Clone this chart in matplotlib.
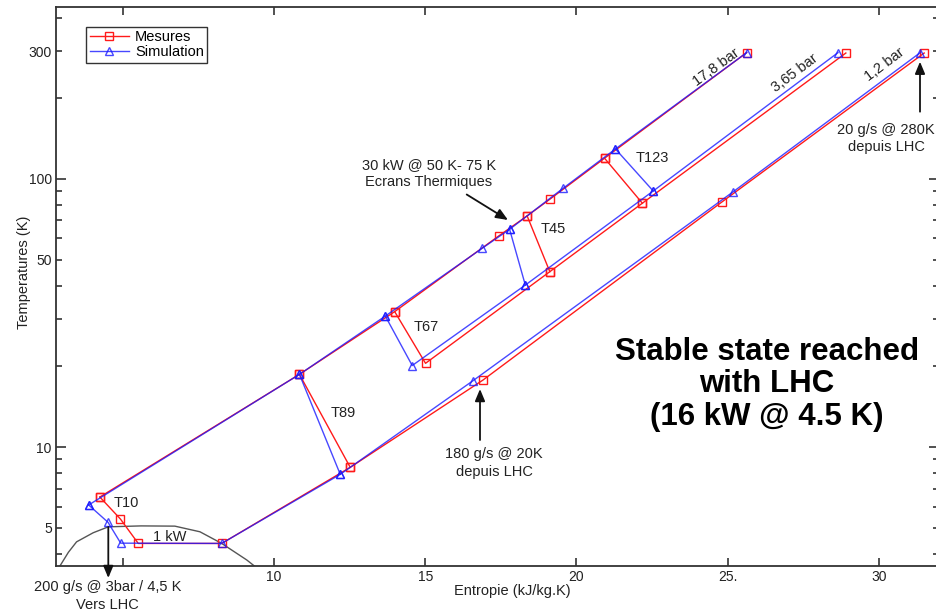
import numpy as np
import matplotlib
matplotlib.use('Agg')
import matplotlib.pyplot as plt
from matplotlib.ticker import FixedLocator, FuncFormatter, NullLocator

plt.rcParams['font.family'] = ['Liberation Sans', 'DejaVu Sans']

# ---------------- data: entropy (kJ/kg.K) / temperature (K) ----------------
# Mesures (measurements)
mes_hp_s = [25.63, 20.93, 19.12, 18.37, 17.43, 13.99, 10.84, 4.24]
mes_hp_T = [296, 119.5, 84.0, 72.8, 61.3, 32.0, 18.67, 6.51]
mes_lp_s = [4.24, 4.92, 5.51, 8.27, 12.52, 16.91, 24.80, 31.50]
mes_lp_T = [6.51, 5.39, 4.37, 4.37, 8.40, 17.78, 81.9, 295]
mes_mp_s = [13.99, 15.01, 19.12, 22.18, 28.91]
mes_mp_T = [32.0, 20.53, 45.1, 81.2, 295]
mes_t123_s = [20.93, 22.18]
mes_t123_T = [119.5, 81.2]
mes_t45_s = [18.37, 19.12]
mes_t45_T = [72.8, 45.1]
mes_t89_s = [10.84, 12.52]
mes_t89_T = [18.67, 8.40]

# Simulation
sim_hp_s = [25.63, 21.29, 19.57, 17.79, 16.88, 13.68, 10.84, 3.87]
sim_hp_T = [296, 129.4, 92.5, 64.9, 55.1, 30.8, 18.67, 6.08]
sim_lp_s = [3.87, 4.51, 4.93, 8.27, 12.19, 16.58, 25.19, 31.37]
sim_lp_T = [6.08, 5.24, 4.38, 4.37, 7.91, 17.68, 89.7, 296]
sim_mp_s = [13.68, 14.57, 18.31, 22.54, 28.65]
sim_mp_T = [30.8, 20.14, 40.2, 90.2, 296]
sim_t123_s = [21.29, 22.54]
sim_t123_T = [129.4, 90.2]
sim_t45_s = [17.79, 18.31]
sim_t45_T = [64.9, 40.2]
sim_t89_s = [10.84, 12.19]
sim_t89_T = [18.67, 7.91]

# Saturation dome
dome_s = [2.92, 3.2, 3.47, 4.02, 4.52, 5.6, 6.72, 7.55, 8.27, 9.10, 9.35]
dome_T = [3.6, 4.05, 4.43, 4.79, 5.04, 5.08, 5.07, 4.83, 4.37, 3.79, 3.6]

x_ticks = [5, 10, 15, 20, 25, 30]
x_ticklabels = ['', '10', '15', '20', '25.', '30']
y_major = [10, 100]
y_minor = [4, 5, 6, 7, 8, 9, 20, 30, 40, 50, 60, 70, 80, 90, 200, 300, 400]
y_minor_labels = [5, 50, 300]

# ---------------- figure ----------------
W, H = 936, 610
fig = plt.figure(figsize=(W / 100, H / 100), dpi=100)
fig.patch.set_facecolor('white')
ax = fig.add_axes([56 / W, 1 - 566 / H, (939.3 - 56) / W, (566 - 7) / H])
ax.set_yscale('log')
ax.set_xlim(2.79, 32.0)
ax.set_ylim(3.6, 438)

def F(px, py):
    return (px / W, 1 - py / H)

ax.plot(dome_s, dome_T, color='#555555', lw=1.0, zorder=1)

red = '#ff1a1a'
blue = '#1a1aff'
mkw_r = dict(color=red, lw=1.0, marker='s', ms=5.2, mfc='none', mec=red, mew=1.0, zorder=2)
mkw_b = dict(color=blue, lw=1.0, marker='^', ms=6.2, mfc='none', mec=blue, mew=1.0, alpha=0.8, zorder=3)

l_mes, = ax.plot(mes_hp_s, mes_hp_T, label='Mesures', **mkw_r)
for s, t in [(mes_lp_s, mes_lp_T), (mes_mp_s, mes_mp_T), (mes_t123_s, mes_t123_T),
             (mes_t45_s, mes_t45_T), (mes_t89_s, mes_t89_T)]:
    ax.plot(s, t, **mkw_r)
l_sim, = ax.plot(sim_hp_s, sim_hp_T, label='Simulation', **mkw_b)
for s, t in [(sim_lp_s, sim_lp_T), (sim_mp_s, sim_mp_T), (sim_t123_s, sim_t123_T),
             (sim_t45_s, sim_t45_T), (sim_t89_s, sim_t89_T)]:
    ax.plot(s, t, **mkw_b)

# ticks
ax.xaxis.set_major_locator(FixedLocator(x_ticks))
ax.xaxis.set_minor_locator(NullLocator())
ax.set_xticklabels(x_ticklabels)
ax.yaxis.set_major_locator(FixedLocator(y_major))
ax.yaxis.set_minor_locator(FixedLocator(y_minor))
ax.yaxis.set_major_formatter(FuncFormatter(lambda v, p: '%g' % v))
ax.yaxis.set_minor_formatter(FuncFormatter(lambda v, p: ('%g' % v) if round(v) in y_minor_labels else ''))
tc = '#333333'
ax.tick_params(axis='x', which='major', direction='in', top=True, length=6, width=1.2,
               color=tc, labelsize=10, pad=3, labelcolor='#222222')
ax.tick_params(axis='y', which='major', direction='in', right=True, length=7.5, width=1.2,
               color=tc, labelsize=10, pad=3, labelcolor='#222222')
ax.tick_params(axis='y', which='minor', direction='in', right=True, length=4, width=1.2,
               color=tc, labelsize=10, pad=3, labelcolor='#222222')
for sp in ax.spines.values():
    sp.set_color(tc)
    sp.set_linewidth(1.3)

ax.set_xlabel('Entropie (kJ/kg.K)', fontsize=10.5, color='#222222')
ax.xaxis.set_label_coords((512.7 - 56) / 883.3, (566 - 591) / 559)
ax.xaxis.label.set_va('center')
ax.set_ylabel('Temperatures (K)', fontsize=10.5, color='#222222')
ax.yaxis.set_label_coords((24 - 56) / 883.3, (566 - 272) / 559)
ax.yaxis.label.set_va('center')

leg = ax.legend(handles=[l_mes, l_sim], loc='upper left',
                bbox_to_anchor=(0.034, 0.9648), borderaxespad=0, frameon=True,
                fancybox=False, edgecolor='black', fontsize=10.5, handlelength=2.7,
                handletextpad=0.4, labelspacing=0.05, borderpad=0.25, numpoints=1)
leg.get_frame().set_linewidth(1.0)

# labels
txt = dict(transform=fig.transFigure, fontsize=10.5, color='#222222', ha='center', va='center')
for s, px, py in [('T10', 126.7, 503.3), ('1 kW', 169.3, 536.7), ('T89', 343.3, 413.3),
                  ('T67', 426, 327.3), ('T45', 553.3, 229.3), ('T123', 652.7, 157.7)]:
    fig.text(*F(px, py), s, **txt)
for s, px, py, r in [('17,8 bar', 716, 67.3, 36), ('3,65 bar', 795, 72.7, 37), ('1,2 bar', 885, 65, 37)]:
    fig.text(*F(px, py), s, rotation=r, rotation_mode='anchor', **txt)

for s, px, py in [('30 kW @ 50 K- 75 K\nEcrans Thermiques', 429, 173.6),
                  ('20 g/s @ 280K\ndepuis LHC', 886, 138.3),
                  ('180 g/s @ 20K\ndepuis LHC', 494, 463),
                  ('200 g/s @ 3bar / 4,5 K\nVers LHC', 107.5, 596)]:
    fig.text(*F(px, py), s, linespacing=1.3, **txt)

arr = dict(arrowstyle='-|>,head_length=0.6,head_width=0.25', color='#111111', lw=1.3,
           mutation_scale=12, shrinkA=0, shrinkB=0)
for (x0, y0), (x1, y1) in [((466.7, 194.5), (508, 220)), ((920, 111.7), (920, 61.7)),
                           ((480, 440), (480, 389)), ((108.3, 527), (108.3, 578))]:
    ax.annotate('', xy=F(x1, y1), xycoords='figure fraction', xytext=F(x0, y0),
                textcoords='figure fraction', arrowprops=arr, annotation_clip=False)

fig.text(*F(767, 384.5), 'Stable state reached\nwith LHC\n(16 kW @ 4.5 K)',
         transform=fig.transFigure, ha='center', va='center', fontsize=22.5,
         fontweight='bold', color='black', linespacing=1.1)

fig.savefig('out.png', dpi=100)
